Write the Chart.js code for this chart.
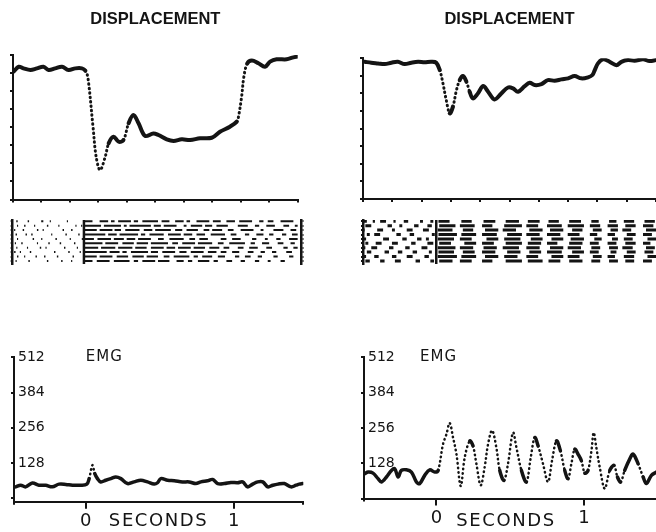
<!DOCTYPE html>
<html lang="en">
<head>
<meta charset="UTF-8"/>
<title>Displacement and EMG</title>
<script src="https://cdn.jsdelivr.net/npm/chart.js"></script>
<style>
  body { margin: 0; background: #fff; width: 656px; height: 532px; overflow: hidden; position: relative; }
  canvas { position: absolute; }
</style>
<script>
// ---------- data ----------
const stimTime = 0;               // seconds (rasters use ms)
const dispTicksX = [-0.5, -0.3, -0.1, 0.1, 0.3, 0.5, 0.7, 0.9, 1.1, 1.3, 1.5];
const dispTicksY = [0, 1, 2, 3, 4, 5, 6, 7, 8];
const emgTicksY = [0, 64, 128, 192, 256, 320, 384, 448, 512];
const emgTicksX = [0, 1];

// left displacement trace (time s, position units)
const dispTimeA = [-0.496, -0.46, -0.426, -0.378, -0.332, -0.286, -0.25, -0.204, -0.156, -0.11, -0.062, -0.016, 0.008, 0.026,
  0.062, 0.084, 0.112, 0.148, 0.172, 0.206, 0.242, 0.276, 0.312, 0.346, 0.382, 0.428, 0.486, 0.522, 0.58, 0.628, 0.686,
  0.744, 0.814, 0.896, 0.954, 1.024, 1.072, 1.084, 1.106, 1.122, 1.146, 1.178, 1.224, 1.27, 1.306, 1.352, 1.422, 1.47, 1.5];
const dispA = [7.08, 7.35, 7.26, 7.17, 7.26, 7.35, 7.17, 7.26, 7.35, 7.17, 7.26, 7.26, 7.13, 6.76,
  4.03, 2.37, 1.63, 2.37, 3.11, 3.48, 3.20, 3.29, 4.22, 4.68, 4.22, 3.52, 3.66, 3.57, 3.33, 3.24, 3.33,
  3.29, 3.39, 3.42, 3.75, 4.03, 4.31, 4.58, 5.69, 6.80, 7.54, 7.69, 7.54, 7.35, 7.63, 7.76, 7.76, 7.87, 7.91];

// right displacement trace
const dispTimeB = [-0.488, -0.444, -0.398, -0.352, -0.306, -0.262, -0.216, -0.17, -0.124, -0.08, -0.034, 0.0,
  0.024, 0.046, 0.068, 0.092, 0.114, 0.138, 0.16, 0.182, 0.206, 0.228, 0.25, 0.284, 0.32, 0.354, 0.398, 0.444,
  0.49, 0.524, 0.558, 0.604, 0.638, 0.672, 0.718, 0.762, 0.808, 0.854, 0.9, 0.944, 0.99, 1.036, 1.066, 1.082,
  1.104, 1.138, 1.184, 1.23, 1.264, 1.308, 1.354, 1.412, 1.456, 1.5];
const dispB = [7.80, 7.75, 7.71, 7.67, 7.75, 7.80, 7.67, 7.75, 7.80, 7.77, 7.80, 7.75,
  7.33, 6.57, 5.63, 4.87, 5.25, 6.19, 6.76, 6.99, 6.67, 6.10, 5.72, 6.00, 6.42, 6.10, 5.66, 6.00,
  6.34, 6.29, 6.10, 6.42, 6.61, 6.48, 6.53, 6.76, 6.72, 6.80, 6.86, 6.99, 6.86, 6.92, 7.05, 7.33,
  7.71, 7.94, 7.80, 7.61, 7.80, 7.90, 7.86, 7.94, 7.84, 7.90];

// left EMG trace (time s, counts)
const emgTimeA = [-0.474, -0.44, -0.406, -0.361, -0.316, -0.271, -0.226, -0.18, -0.135, -0.09, -0.034, 0.007, 0.023,
  0.045, 0.061, 0.079, 0.101, 0.135, 0.169, 0.203, 0.237, 0.282, 0.327, 0.372, 0.417, 0.462, 0.485, 0.507, 0.553,
  0.598, 0.654, 0.699, 0.744, 0.778, 0.823, 0.857, 0.891, 0.936, 0.981, 1.026, 1.06, 1.094, 1.128, 1.162, 1.196,
  1.23, 1.264, 1.298, 1.342, 1.387, 1.421, 1.443, 1.466];
const emgA = [41, 47, 41, 55, 47, 47, 41, 51, 50, 47, 47, 51, 71,
  120, 89, 71, 59, 65, 71, 77, 71, 53, 59, 65, 59, 51, 56, 71, 65,
  63, 59, 59, 53, 59, 63, 68, 53, 53, 57, 56, 59, 41, 51, 59, 59,
  41, 47, 51, 53, 41, 47, 51, 53];

// right EMG trace
const emgTimeB = [-0.485, -0.462, -0.429, -0.395, -0.372, -0.338, -0.304, -0.282, -0.259, -0.237, -0.203, -0.169,
  -0.135, -0.113, -0.079, -0.045, -0.011, 0.012, 0.045, 0.068, 0.09, 0.113, 0.136, 0.165, 0.192, 0.226, 0.248,
  0.271, 0.3, 0.327, 0.35, 0.377, 0.406, 0.429, 0.458, 0.485, 0.519, 0.542, 0.576, 0.61, 0.639, 0.666, 0.689,
  0.722, 0.756, 0.783, 0.813, 0.84, 0.869, 0.892, 0.914, 0.937, 0.959, 0.982, 1.005, 1.027, 1.05, 1.065, 1.083,
  1.106, 1.14, 1.174, 1.203, 1.226, 1.248, 1.275, 1.309, 1.332, 1.366, 1.4, 1.422, 1.456, 1.49];
const emgB = [90, 96, 92, 72, 60, 78, 102, 108, 78, 102, 104, 96,
  60, 54, 84, 104, 96, 102, 197, 233, 274, 221, 161, 45, 149, 209, 191,
  126, 48, 114, 197, 247, 185, 102, 66, 126, 239, 185, 102, 60, 149, 221, 191,
  126, 60, 137, 209, 173, 102, 72, 126, 179, 161, 137, 92, 102, 173, 239, 185,
  114, 36, 102, 120, 78, 60, 102, 143, 161, 126, 78, 54, 84, 96];

// spike rasters: one row per trial, dashes as start,end pairs in ms
const rasterA = [
  [-475,-465, -395,-385, -300,-285, -240,-232, -120,-112, 5,60, 110,170, 190,215, 240,330, 350,380, 410,520, 545,600, 640,700, 720,745, 790,880, 905,960, 1000,1060, 1090,1180, 1230,1260, 1290,1330, 1380,1470],
  [-470,-462, -420,-410, -350,-342, -260,-250, -180,-172, -60,-52, -20,-12, 5,120, 140,260, 280,300, 320,470, 490,540, 560,650, 700,720, 750,830, 850,900, 930,1010, 1080,1150, 1200,1230, 1280,1340, 1400,1440, 1480,1500],
  [-490,-482, -430,-420, -330,-320, -290,-282, -150,-140, -90,-80, 5,90, 110,200, 215,260, 290,390, 420,480, 500,610, 640,690, 720,800, 840,880, 900,970, 1010,1050, 1100,1190, 1240,1260, 1330,1400, 1450,1490],
  [-480,-470, -410,-400, -370,-360, -230,-222, -130,-120, -40,-30, 5,150, 170,230, 250,380, 400,430, 460,560, 590,680, 700,760, 790,850, 890,990, 1030,1070, 1130,1160, 1210,1260, 1300,1330, 1390,1420, 1460,1500],
  [-470,-462, -360,-350, -300,-292, -200,-190, -100,-92, -15,-7, 5,70, 95,190, 210,280, 300,360, 380,470, 520,560, 600,700, 740,780, 810,870, 960,1000, 1040,1100, 1180,1210, 1270,1290, 1350,1380, 1440,1500],
  [-485,-477, -440,-430, -330,-322, -250,-240, -170,-160, -70,-60, 5,130, 150,240, 270,350, 370,450, 470,590, 620,660, 690,780, 800,900, 940,980, 1020,1130, 1170,1200, 1250,1300, 1360,1400, 1450,1480],
  [-475,-467, -400,-392, -310,-300, -270,-262, -140,-130, -50,-42, 5,100, 120,220, 240,340, 360,440, 470,560, 580,640, 660,750, 770,850, 880,950, 980,1020, 1080,1120, 1160,1220, 1280,1320, 1400,1430, 1470,1500],
  [-490,-480, -450,-442, -380,-370, -210,-200, -110,-100, -30,-22, 5,160, 180,250, 270,300, 330,450, 470,520, 550,640, 670,720, 750,840, 870,930, 960,1000, 1040,1090, 1150,1190, 1240,1270, 1320,1350, 1420,1460],
  [-470,-460, -420,-412, -340,-330, -280,-270, -190,-180, -80,-70, 5,90, 110,200, 230,310, 340,420, 440,520, 560,600, 630,740, 770,800, 830,900, 940,990, 1060,1090, 1130,1170, 1220,1250, 1330,1360, 1440,1470],
  [-480,-472, -390,-380, -260,-250, -160,-150, -90,-82, 5,60, 90,180, 210,320, 350,380, 410,500, 520,600, 650,700, 730,760, 800,880, 910,940, 1000,1040, 1100,1130, 1200,1230, 1290,1310, 1380,1410]
];
const rasterB = [
  [-495,-470, -430,-415, -380,-340, -290,-275, -220,-190, -110,-90, -40,-20, 15,90, 170,240, 320,400, 470,560, 620,700, 760,830, 900,980, 1050,1100, 1170,1220, 1270,1340, 1410,1480],
  [-480,-440, -330,-300, -250,-230, -150,-120, -60,-30, 20,130, 160,260, 310,380, 460,580, 610,690, 750,850, 890,1000, 1040,1110, 1160,1230, 1280,1350, 1400,1470],
  [-495,-485, -400,-360, -300,-280, -200,-160, -90,-50, 10,110, 180,250, 330,420, 450,540, 630,720, 770,860, 920,990, 1060,1120, 1180,1230, 1260,1320, 1420,1490],
  [-470,-450, -420,-380, -270,-240, -180,-150, -30,-10, 15,140, 170,270, 310,410, 480,580, 610,700, 750,840, 890,970, 1040,1090, 1160,1210, 1290,1350, 1400,1460],
  [-495,-475, -360,-320, -230,-200, -130,-100, -70,-50, 10,120, 160,240, 340,420, 460,570, 640,720, 780,860, 910,1000, 1070,1120, 1190,1230, 1270,1330, 1430,1490],
  [-480,-460, -410,-370, -300,-260, -170,-140, -60,-20, 20,100, 190,270, 310,390, 470,580, 620,710, 750,820, 900,990, 1040,1100, 1160,1220, 1280,1350, 1400,1450],
  [-495,-480, -440,-400, -320,-290, -210,-180, -100,-60, 10,130, 160,250, 320,410, 450,560, 610,700, 770,860, 890,980, 1050,1110, 1170,1230, 1260,1330, 1420,1480],
  [-470,-440, -350,-320, -260,-230, -160,-130, -50,-30, 15,120, 180,260, 310,400, 480,570, 630,710, 750,850, 920,1000, 1040,1100, 1180,1220, 1290,1350, 1410,1470],
  [-495,-475, -420,-390, -300,-270, -200,-160, -80,-50, 10,140, 170,270, 330,420, 460,550, 610,690, 780,860, 890,970, 1060,1120, 1160,1210, 1270,1340, 1430,1490],
  [-480,-450, -380,-350, -280,-240, -140,-110, -40,-15, 20,110, 160,240, 310,380, 470,580, 620,720, 760,840, 900,990, 1050,1110, 1170,1230, 1280,1340, 1400,1460]
];

// ---------- drawing ----------
const INK = '#141414';
Chart.defaults.font.family = 'Liberation Sans';
Chart.defaults.color = INK;

// fast parts of a trace come out as separated dots, like the original plotter
function steep(c) {
  const dx = Math.abs(c.p1.x - c.p0.x) || 0.01;
  return Math.abs(c.p1.y - c.p0.y) / dx > 2.6;
}
function trace(xs, ys, width) {
  return {
    data: xs.map((x, i) => ({x: x, y: ys[i]})),
    borderColor: INK, borderWidth: width, tension: 0.35, pointRadius: 0,
    borderCapStyle: 'round', borderJoinStyle: 'round',
    segment: {
      borderDash: c => steep(c) ? [0.5, 4] : undefined,
      borderWidth: c => steep(c) ? width - 1 : undefined
    }
  };
}
function fixedTicks(list) {
  return s => { s.ticks = list.map(v => ({value: v})); };
}
function edgeAxis(min, max, list, tick, horizontal, extra) {
  return Object.assign({
    type: 'linear', min: min, max: max,
    afterBuildTicks: fixedTicks(list),
    afterFit: horizontal ? (s => { s.height = 0; }) : (s => { s.width = 0; }),
    ticks: {display: false, autoSkip: false},
    grid: {drawOnChartArea: false, tickLength: tick, color: INK, lineWidth: 2},
    border: {color: INK, width: 2}
  }, extra || {});
}
const textMarks = {
  id: 'textMarks',
  afterDraw(chart, args, opts) {
    const ctx = chart.ctx;
    (opts.items || []).forEach(it => {
      ctx.save();
      ctx.font = it.font;
      ctx.fillStyle = INK;
      ctx.textAlign = 'left';
      ctx.textBaseline = 'middle';
      if ('letterSpacing' in ctx) ctx.letterSpacing = it.spacing + 'px';
      ctx.fillText(it.text, chart.scales.x.getPixelForValue(it.x), chart.scales.y.getPixelForValue(it.y));
      ctx.restore();
    });
  }
};
const quiet = {legend: {display: false}, tooltip: {enabled: false}};

function dispChart(id, xs, ys, pad, titleGap) {
  new Chart(document.getElementById(id), {
    type: 'line',
    data: {datasets: [trace(xs, ys, 4)]},
    options: {
      responsive: false, animation: false, events: [], layout: {padding: pad},
      plugins: Object.assign({
        title: {display: true, text: 'DISPLACEMENT', color: INK,
          font: {family: 'Liberation Sans', size: 16.5, weight: 'bold'},
          padding: {top: 9.3, bottom: titleGap}}
      }, quiet),
      scales: {
        x: edgeAxis(-0.5, 1.5, dispTicksX, 3, true),
        y: edgeAxis(0, 8, dispTicksY, 3, false)
      }
    }
  });
}

function rasterChart(id, rows, xMin, xMax, width, pad) {
  const dashes = [];
  rows.forEach((row, r) => {
    for (let i = 0; i < row.length; i += 2) {
      dashes.push({x: row[i], y: r}, {x: row[i + 1], y: r}, {x: row[i + 1], y: null});
    }
  });
  const rowIdx = rows.map((row, r) => r);
  new Chart(document.getElementById(id), {
    type: 'line',
    data: {datasets: [
      {data: dashes, borderColor: INK, borderWidth: width, pointRadius: 0, spanGaps: false, borderCapStyle: 'butt'},
      {data: [{x: stimTime, y: -0.3}, {x: stimTime, y: rows.length - 0.3}], borderColor: INK, borderWidth: 2.5, pointRadius: 0}
    ]},
    options: {
      responsive: false, animation: false, events: [], layout: {padding: pad}, plugins: quiet,
      scales: {
        x: {type: 'linear', min: xMin, max: xMax, display: false},
        y: edgeAxis(-0.3, rows.length - 0.3, rowIdx, 2, false, {reverse: true, border: {color: INK, width: 2.5}}),
        y2: edgeAxis(-0.3, rows.length - 0.3, rowIdx, 2, false, {reverse: true, position: 'right', border: {color: INK, width: 2.5}})
      }
    }
  });
}

function emgChart(id, xs, ys, xMin, xMax, yMin, pad, labelX, secondsX) {
  new Chart(document.getElementById(id), {
    type: 'line',
    data: {datasets: [trace(xs, ys, 3.5)]},
    plugins: [textMarks],
    options: {
      responsive: false, animation: false, events: [], layout: {padding: pad},
      plugins: Object.assign({
        textMarks: {items: [
          {text: 'EMG', x: labelX, y: 512, font: '15px "DejaVu Sans"', spacing: 1},
          {text: 'SECONDS', x: secondsX, y: -83, font: '18px "DejaVu Sans"', spacing: 1.6}
        ]}
      }, quiet),
      scales: {
        x: edgeAxis(xMin, xMax, [xMin, xMax], 3, true),
        // labelled ticks at 0 s and 1 s; the box needs height or the labels get clipped
        x2: edgeAxis(xMin, xMax, emgTicksX, 7, true, {
          position: 'bottom',
          afterFit: s => { s.height = 30; },
          border: {display: false},
          ticks: {display: true, autoSkip: false, maxRotation: 0, padding: 2, color: INK,
            font: {family: 'DejaVu Sans', size: 18}, callback: v => String(v)}
        }),
        y: edgeAxis(yMin, 512, emgTicksY, 3, false, {
          ticks: {display: true, mirror: true, padding: 4, color: INK,
            font: {family: 'DejaVu Sans', size: 14},
            callback: v => (v > 0 && v % 128 === 0) ? String(v) : ''}
        })
      }
    }
  });
}

window.addEventListener('load', function() {
  dispChart('dispA', dispTimeA, dispA, {left: 5, right: 10.3, top: 0, bottom: 5.5}, 25.9);
  dispChart('dispB', dispTimeB, dispB, {left: 5, right: 12, top: 0, bottom: 6}, 29.2);
  rasterChart('rasterA', rasterA, -500, 1527, 2, {left: 4.7, right: 6.5, top: 6, bottom: 4});
  rasterChart('rasterB', rasterB, -496, 1500, 3, {left: 5, right: 10.2, top: 6, bottom: 4});
  emgChart('emgA', emgTimeA, emgA, -0.485, 1.47, -13, {left: 14, right: 16.7, top: 11.7, bottom: 0.3}, 0.0, 0.156);
  emgChart('emgB', emgTimeB, emgB, -0.49, 1.5, 0, {left: 14, right: 12.1, top: 10, bottom: 3.5}, -0.11, 0.135);
}, false);
</script>
</head>
<body>
  <canvas id="dispA" width="300" height="205" style="left:8px;top:0px"></canvas>
  <canvas id="dispB" width="310" height="205" style="left:358px;top:0px"></canvas>
  <canvas id="rasterA" width="300" height="54" style="left:8px;top:214px"></canvas>
  <canvas id="rasterB" width="310" height="54" style="left:358px;top:214px"></canvas>
  <canvas id="emgA" width="320" height="187" style="left:0px;top:345px"></canvas>
  <canvas id="emgB" width="320" height="187" style="left:350px;top:345px"></canvas>
</body>
</html>
